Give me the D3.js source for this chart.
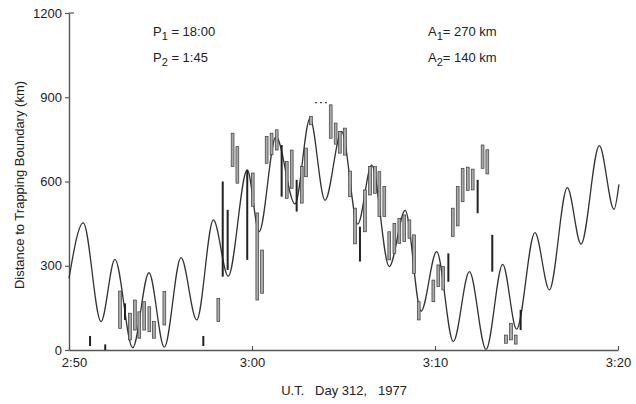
<!DOCTYPE html>
<html>
<head>
<meta charset="utf-8">
<script src="https://cdn.jsdelivr.net/npm/d3@7"></script>
<style>
  body { margin: 0; background: #fff; }
  text { font-family: "Liberation Sans", Arial, sans-serif; fill: #222; }
</style>
</head>
<body>
<svg id="chart" width="636" height="404"></svg>
<script>
// minutes after 2:50 UT, model curve
var curveMin = [0, 0.78, 1.75, 2.51, 3.48, 4.37, 5.21, 6.12, 6.98, 7.89, 8.70, 9.74, 10.39, 11.31,
  12.35, 13.17, 13.99, 14.90, 15.78, 16.54, 17.50, 18.37, 19.24, 20.09, 21.00, 21.88, 22.79,
  23.70, 24.46, 25.46, 26.25, 27.23, 27.98, 28.98, 29.78, 30.05];
var curveKm = [255, 453, 101, 323, 8, 275, 10, 329, 107, 463, 263, 641, 421, 760,
  520, 825, 533, 778, 448, 658, 297, 497, 138, 350, 30, 279, 2,
  305, 74, 418, 214, 578, 377, 728, 501, 590];

// observed ranges
var barMin = [1.15, 1.98, 2.79, 3.06, 3.33, 3.60, 3.84, 4.11, 4.39, 4.64, 5.21, 7.34, 8.16, 8.40,
  8.67, 8.94, 9.20, 9.74, 10.04, 10.29, 10.55, 10.80, 11.07, 11.35, 11.62, 11.90, 12.17, 12.44,
  12.72, 12.95, 13.22, 14.30, 14.57, 14.80, 15.08, 15.36, 15.63, 15.90, 16.17, 16.45, 16.72,
  16.96, 17.23, 17.50, 17.78, 18.05, 18.32, 18.60, 18.85, 19.11, 19.91, 20.18, 20.45, 20.73,
  20.97, 21.24, 21.51, 21.79, 22.06, 22.33, 22.60, 22.86, 23.13, 23.88, 24.15, 24.41, 24.68];
var barLow = [14, 0, 77, 107, 36, 71, 42, 71, 65, 42, 89, 14, 101, 261,
  285, 653, 594, 321, 512, 178, 202, 665, 695, 712, 546, 540, 576, 493,
  523, 617, 802, 754, 733, 701, 694, 546, 378, 315, 421, 552, 558,
  475, 475, 321, 344, 380, 386, 398, 273, 107, 172, 226, 214, 243,
  404, 442, 528, 568, 570, 487, 647, 627, 279, 24, 36, 21, 71];
var barHigh = [50, 20, 210, 166, 131, 178, 136, 172, 154, 101, 208, 50, 184, 600,
  499, 772, 724, 641, 630, 488, 356, 760, 772, 784, 730, 671, 712, 606,
  653, 719, 831, 873, 808, 778, 790, 637, 505, 439, 570, 653, 653,
  635, 582, 421, 451, 469, 481, 463, 410, 172, 249, 303, 297, 344,
  505, 582, 647, 651, 644, 606, 730, 713, 410, 53, 95, 53, 143];
// solid black traces
var barSolid = [1.15, 1.98, 3.06, 7.34, 8.40, 8.67, 9.74, 11.62, 12.44, 15.90, 20.73, 22.33, 23.13, 24.68];

var dotMin = [13.44, 14.10];
var dotKm = 881;

var xTicks = [0, 10, 20, 30];
var xTickLabels = ["2:50", "3:00", "3:10", "3:20"];
var yTicks = [0, 300, 600, 900, 1200];

var svg = d3.select("#chart");
var x = d3.scaleLinear().domain([0, 30]).range([69, 618]);
var y = d3.scaleLinear().domain([0, 1200]).range([350, 13]);

var axisColor = "#555";

// y axis
var yAxis = svg.append("g")
  .attr("transform", "translate(" + x(0) + ",0)")
  .call(d3.axisLeft(y).tickValues(yTicks).tickSize(4).tickSizeOuter(0).tickPadding(3)
    .tickFormat(d3.format("d")));
yAxis.select(".domain").attr("stroke", axisColor).attr("stroke-width", 1.4);
yAxis.selectAll(".tick line").attr("stroke", axisColor).attr("stroke-width", 1.2);
yAxis.selectAll(".tick text").attr("font-size", 13).attr("font-family", null).attr("fill", "#222");
svg.append("line")
  .attr("x1", x(0)).attr("x2", x(0) + 5)
  .attr("y1", y(1200)).attr("y2", y(1200))
  .attr("stroke", axisColor).attr("stroke-width", 1.2);

// x axis
var xAxis = svg.append("g")
  .attr("transform", "translate(0," + y(0) + ")")
  .call(d3.axisBottom(x).tickValues(xTicks).tickSize(-4).tickSizeOuter(0).tickPadding(8)
    .tickFormat(function(d, i) { return xTickLabels[i]; }));
xAxis.select(".domain").attr("stroke", axisColor).attr("stroke-width", 1.4);
xAxis.selectAll(".tick line").attr("stroke", axisColor).attr("stroke-width", 1.2);
xAxis.selectAll(".tick text").attr("font-size", 13).attr("font-family", null).attr("fill", "#222")
  .attr("dx", function(d) { return d === 0 ? 5 : 0; });

// model curve
var line = d3.line()
  .x(function(d, i) { return x(curveMin[i]); })
  .y(function(d) { return y(d); })
  .curve(d3.curveMonotoneX);

svg.append("path")
  .datum(curveKm)
  .attr("fill", "none")
  .attr("stroke", "#333")
  .attr("stroke-width", 1.3)
  .attr("d", line);

// observation bars
function isSolid(d) { return barSolid.indexOf(d) >= 0; }
svg.append("g")
  .selectAll("rect")
  .data(barMin)
  .enter().append("rect")
    .attr("x", function(d) { return x(d) - (isSolid(d) ? 1 : 1.4); })
    .attr("width", function(d) { return isSolid(d) ? 2 : 2.8; })
    .attr("y", function(d, i) { return y(barHigh[i]); })
    .attr("height", function(d, i) { return Math.max(1.5, y(barLow[i]) - y(barHigh[i])); })
    .attr("fill", function(d) { return isSolid(d) ? "#222" : "#aaa"; })
    .attr("stroke", function(d) { return isSolid(d) ? "none" : "#3a3a3a"; })
    .attr("stroke-width", 0.7);

// dotted marker near the top
svg.append("line")
  .attr("x1", x(dotMin[0])).attr("x2", x(dotMin[1]))
  .attr("y1", y(dotKm)).attr("y2", y(dotKm))
  .attr("stroke", "#444").attr("stroke-width", 1.2)
  .attr("stroke-dasharray", "2,3");

// axis titles
svg.append("text")
  .attr("transform", "translate(24," + 185 + ")rotate(-90)")
  .attr("text-anchor", "middle")
  .attr("font-size", 13)
  .text("Distance to Trapping Boundary  (km)");

svg.append("text")
  .attr("x", 344).attr("y", 395)
  .attr("text-anchor", "middle")
  .attr("font-size", 13)
  .attr("xml:space", "preserve")
  .style("white-space", "pre")
  .text("U.T.   Day 312,   1977");

// parameter notes
function note(px, py, sym, sub, rest) {
  var t = svg.append("text").attr("x", px).attr("y", py).attr("font-size", 13);
  t.append("tspan").text(sym);
  t.append("tspan").attr("dy", 4).attr("font-size", 11).text(sub);
  t.append("tspan").attr("dy", -4).text(rest);
}
note(153, 36, "P", "1", " = 18:00");
note(153, 62, "P", "2", " = 1:45");
note(428, 36, "A", "1", "= 270 km");
note(428, 62, "A", "2", "= 140 km");
</script>
</body>
</html>
